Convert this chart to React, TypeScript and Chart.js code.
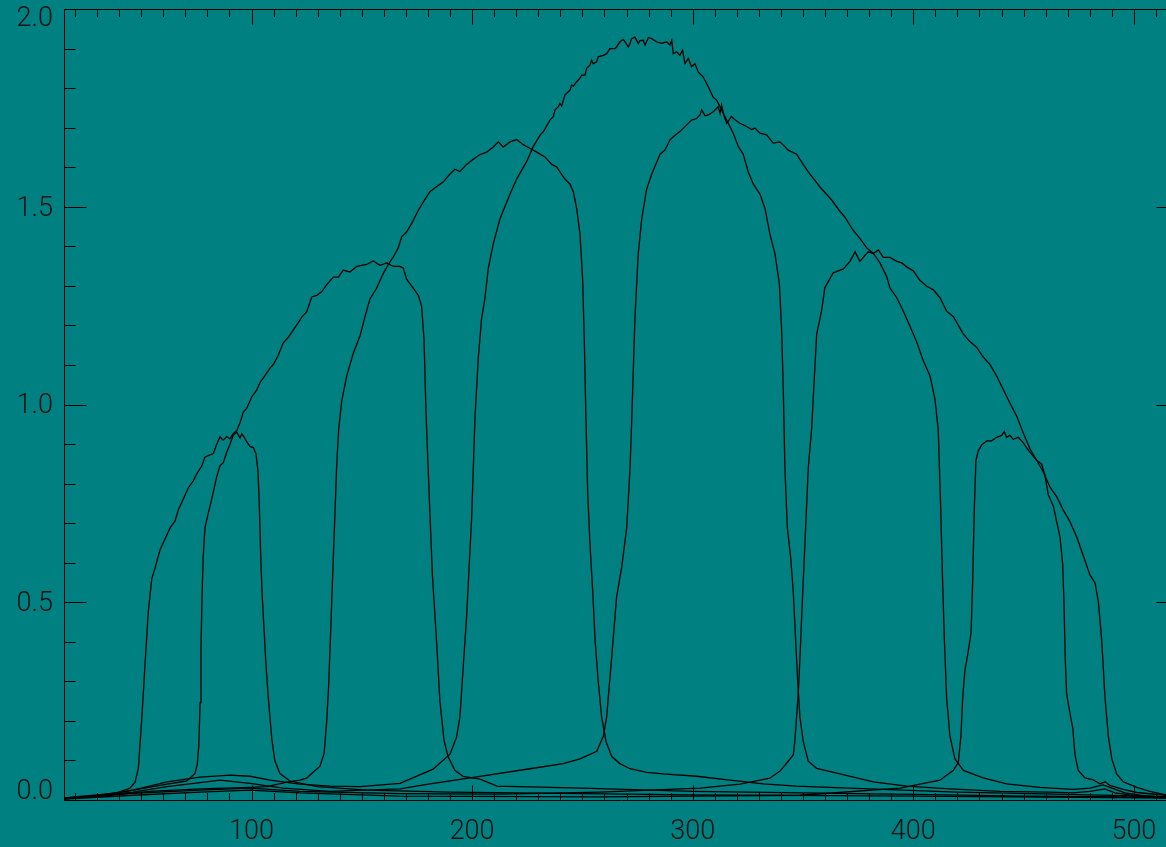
import React, { useEffect, useRef } from 'react';
import { Chart, registerables } from 'chart.js';

Chart.register(...registerables);

const BG = '#008080';
const INK = '#000000';
const CANVAS_W = 1190;
const CANVAS_H = 847;

// axis definitions
const xRange = [15, 520];
const yRange = [0, 2];
const xMajorTicks = [100, 200, 300, 400, 500];
const yMajorTicks = [0, 0.5, 1.0, 1.5, 2.0];
const yTickLabels = ['0.0', '0.5', '1.0', '1.5', '2.0'];
const xMinorStep = 10;
const yMinorStep = 0.1;

// transmission curves: [wavelength, value]
const band1: [number, number][] = [
  [15, 0.004], [31.3, 0.012], [46.3, 0.025], [61.7, 0.04], [70.6, 0.048], [74.4, 0.067], [75.4, 0.09], [76.1, 0.137],
  [76.7, 0.246], [77.1, 0.384], [77.6, 0.522], [78.1, 0.614], [78.9, 0.688], [80.0, 0.716], [81.2, 0.743], [82.7, 0.779],
  [84.2, 0.817], [85.7, 0.845], [87.2, 0.853], [88.8, 0.88], [90.2, 0.899], [91.7, 0.922], [93.3, 0.93], [94.8, 0.915],
  [95.6, 0.926], [96.6, 0.918], [97.8, 0.906], [99.3, 0.894], [100.8, 0.891], [102.0, 0.876], [102.9, 0.834], [103.5, 0.752],
  [104.2, 0.614], [104.8, 0.522], [105.7, 0.43], [106.6, 0.338], [107.8, 0.246], [109.2, 0.154], [110.6, 0.099], [112.9, 0.067],
  [117.4, 0.048], [129.7, 0.034], [152.4, 0.025], [190, 0.02], [250, 0.016], [300, 0.013], [400, 0.01], [520, 0.005],
];

const band2: [number, number][] = [
  [15, 0.005], [30, 0.013], [39, 0.018], [44.9, 0.03], [47.2, 0.045], [48.7, 0.08], [50.2, 0.2], [51.7, 0.34],
  [53.2, 0.476], [54.8, 0.56], [56.3, 0.587], [58.5, 0.632], [60.8, 0.66], [63.1, 0.688], [65.3, 0.705], [66.8, 0.733],
  [69.1, 0.761], [71.3, 0.789], [73.6, 0.807], [75.2, 0.825], [77.4, 0.844], [78.9, 0.867], [80.4, 0.871], [82.7, 0.876],
  [84.2, 0.899], [85.7, 0.918], [87.2, 0.91], [88.8, 0.919], [90.2, 0.913], [91.7, 0.926], [93.3, 0.934], [94.8, 0.954],
  [96.3, 0.981], [97.8, 0.99], [100.1, 1.019], [102.4, 1.037], [103.8, 1.055], [106.1, 1.073], [108.4, 1.092], [109.9, 1.101],
  [112.1, 1.124], [114.4, 1.156], [116.7, 1.17], [118.9, 1.188], [121.2, 1.207], [122.8, 1.221], [125, 1.234], [127.3, 1.272],
  [129.6, 1.276], [131.8, 1.285], [134.1, 1.303], [137.1, 1.322], [139.4, 1.322], [141.6, 1.34], [144.6, 1.335], [147.7, 1.349],
  [152.2, 1.354], [155.2, 1.363], [158.2, 1.352], [161.3, 1.358], [164.3, 1.349], [167.3, 1.349], [168.8, 1.345], [170.3, 1.317],
  [173.3, 1.294], [175.6, 1.276], [177.1, 1.249], [178.2, 1.166], [179.1, 0.98], [180.7, 0.75], [182, 0.57], [183.9, 0.4],
  [185.4, 0.25], [187.3, 0.15], [189.1, 0.11], [192.2, 0.075], [195.9, 0.06], [203.6, 0.053], [211.3, 0.035], [250, 0.03],
  [300, 0.022], [350, 0.018], [400, 0.014], [450, 0.01], [500, 0.008], [520, 0.005],
];

const band3: [number, number][] = [
  [15, 0.003], [31.3, 0.01], [54, 0.022], [76.7, 0.028], [99.3, 0.032], [107, 0.034], [116, 0.045], [122, 0.05],
  [125, 0.055], [127.9, 0.07], [131, 0.085], [132.9, 0.117], [134.1, 0.2], [135, 0.292], [135.9, 0.43], [136.8, 0.568],
  [137.7, 0.705], [138.6, 0.845], [139.5, 0.936], [140.9, 1.009], [143.2, 1.073], [146.1, 1.129], [149.2, 1.174], [151.4, 1.221],
  [153.7, 1.267], [156.7, 1.294], [159.7, 1.331], [162, 1.354], [164.3, 1.373], [166.5, 1.396], [168.1, 1.424], [170.3, 1.436],
  [172.8, 1.46], [175.5, 1.49], [178.2, 1.515], [180.9, 1.538], [184, 1.551], [187, 1.563], [190, 1.583], [192.2, 1.595],
  [194.5, 1.589], [197.5, 1.607], [200.5, 1.62], [203.6, 1.632], [206.6, 1.638], [209.6, 1.651], [211.9, 1.664], [214.1, 1.651],
  [217.2, 1.664], [220.2, 1.67], [223.2, 1.657], [226.2, 1.648], [229.3, 1.638], [233, 1.626], [236.1, 1.607], [238.3, 1.601],
  [240.6, 1.582], [242.1, 1.57], [244.4, 1.557], [245.9, 1.538], [247.4, 1.495], [248.9, 1.431], [250.1, 1.318], [250.9, 1.155],
  [251.6, 0.966], [252.4, 0.777], [253.4, 0.651], [254.7, 0.525], [255.8, 0.4], [257.2, 0.299], [258.7, 0.211], [260.7, 0.148],
  [263.3, 0.11], [267, 0.092], [271.6, 0.079], [279.1, 0.07], [286.7, 0.066], [301.8, 0.06], [316.9, 0.05], [332, 0.041],
  [347.1, 0.035], [380, 0.028], [420, 0.02], [470, 0.014], [520, 0.008],
];

const band4: [number, number][] = [
  [15, 0.005], [31.3, 0.01], [46.3, 0.025], [61.7, 0.046], [76.7, 0.058], [90.2, 0.063], [99.3, 0.06], [108.4, 0.05],
  [122, 0.04], [135.6, 0.035], [149.2, 0.034], [167.3, 0.042], [182.3, 0.078], [190, 0.116], [193, 0.16], [194.5, 0.211],
  [196, 0.338], [197.5, 0.463], [199.8, 0.714], [201.3, 0.966], [202.8, 1.117], [204.3, 1.217], [205.8, 1.268], [207.3, 1.343],
  [209.6, 1.406], [212.6, 1.469], [217.2, 1.532], [220.2, 1.57], [224.7, 1.614], [227.7, 1.652], [230.8, 1.681], [232.3, 1.69],
  [235.3, 1.719], [236.8, 1.728], [237.6, 1.745], [239.1, 1.753], [239.8, 1.761], [240.6, 1.755], [242.1, 1.783], [242.9, 1.787],
  [244.4, 1.795], [245.1, 1.808], [245.9, 1.805], [247.4, 1.816], [248.9, 1.825], [249.7, 1.833], [251.2, 1.833], [251.9, 1.85],
  [253.4, 1.858], [254.2, 1.871], [254.9, 1.862], [256.4, 1.866], [257.2, 1.879], [259.5, 1.883], [261, 1.887], [262.5, 1.9],
  [264.8, 1.9], [265.5, 1.904], [267, 1.917], [268.5, 1.923], [269.8, 1.913], [270.8, 1.904], [271.6, 1.913], [272.3, 1.925],
  [273.8, 1.929], [275.3, 1.913], [276.1, 1.92], [277.6, 1.921], [278.4, 1.909], [279.9, 1.928], [281.4, 1.925], [283.7, 1.917],
  [285.9, 1.913], [288.2, 1.917], [289.7, 1.909], [290.5, 1.921], [291.2, 1.887], [292.7, 1.892], [294.2, 1.883], [295.4, 1.896],
  [296.5, 1.862], [298, 1.875], [299.5, 1.854], [301, 1.862], [302.5, 1.841], [304.8, 1.828], [307.1, 1.803], [309.3, 1.777],
  [310.9, 1.769], [312.4, 1.753], [313.9, 1.736], [315.4, 1.719], [318.4, 1.686], [320.7, 1.652], [322.9, 1.633], [325.2, 1.588],
  [327.5, 1.557], [330.5, 1.532], [332.8, 1.495], [335, 1.431], [337.3, 1.381], [339.3, 1.305], [340.3, 1.192], [341.1, 1.029],
  [341.8, 0.84], [342.9, 0.689], [344.4, 0.614], [345.6, 0.526], [346.7, 0.4], [347.6, 0.299], [348.6, 0.211], [350.1, 0.148],
  [352.4, 0.098], [356.2, 0.08], [366.8, 0.066], [381.9, 0.046], [397, 0.035], [416.6, 0.028], [439.3, 0.022], [462, 0.02],
  [472.4, 0.018], [480.1, 0.022], [486.9, 0.028], [491.4, 0.018], [502.8, 0.01], [514.6, 0.005], [520, 0.004],
];

const band5: [number, number][] = [
  [15, 0.003], [46.3, 0.02], [61.7, 0.034], [76.7, 0.044], [85.7, 0.05], [99.3, 0.042], [114.3, 0.03], [135.6, 0.022],
  [167.3, 0.028], [180.9, 0.041], [203.6, 0.06], [226.2, 0.079], [241.3, 0.092], [248.9, 0.104], [256.5, 0.123], [259.5, 0.161],
  [261, 0.211], [263.3, 0.362], [265.5, 0.513], [267.8, 0.588], [270.1, 0.689], [271.6, 0.84], [272.4, 0.966], [273.8, 1.217],
  [275.3, 1.381], [276.9, 1.469], [279.1, 1.544], [281.4, 1.582], [285.2, 1.633], [287.4, 1.643], [289.7, 1.669], [291.2, 1.677],
  [294.2, 1.69], [297.3, 1.707], [299.5, 1.719], [301.8, 1.723], [303.3, 1.732], [304.1, 1.745], [305.6, 1.73], [307.1, 1.732],
  [309.3, 1.74], [311.6, 1.753], [312.4, 1.736], [313.1, 1.757], [314.2, 1.73], [315.4, 1.711], [317.6, 1.728], [319.1, 1.72],
  [321.4, 1.711], [324.5, 1.703], [326.7, 1.695], [328.2, 1.699], [330.5, 1.686], [333.5, 1.682], [336.5, 1.661], [339.6, 1.664],
  [341.8, 1.652], [343.3, 1.643], [347.1, 1.633], [350.1, 1.607], [352.4, 1.588], [357.7, 1.55], [363, 1.517], [366.8, 1.488],
  [369, 1.474], [372.8, 1.44], [375.8, 1.42], [378.9, 1.396], [381.9, 1.382], [384.9, 1.358], [387.9, 1.324], [389.4, 1.295],
  [392.5, 1.27], [395.5, 1.236], [398.5, 1.198], [401.5, 1.159], [404.5, 1.111], [407.6, 1.072], [409.8, 1.014], [411.3, 0.937],
  [412.4, 0.743], [413.3, 0.549], [414.1, 0.405], [415.1, 0.259], [416.6, 0.162], [418.9, 0.104], [422.7, 0.075], [431.7, 0.056],
  [442.3, 0.041], [457.4, 0.032], [472.4, 0.027], [480.1, 0.03], [486, 0.038], [490.1, 0.03], [496, 0.018], [502.8, 0.012],
  [514.6, 0.006], [520, 0.005],
];

const band6: [number, number][] = [
  [15, 0.003], [46.3, 0.017], [76.7, 0.025], [99.3, 0.03], [122, 0.022], [167.3, 0.016], [212.6, 0.015], [258, 0.02],
  [303.3, 0.03], [321.4, 0.04], [335, 0.055], [339.6, 0.073], [343.3, 0.098], [345.6, 0.114], [346.3, 0.148], [347.9, 0.274],
  [348.6, 0.356], [349.4, 0.463], [350.9, 0.651], [352.4, 0.84], [353.9, 0.937], [356.2, 1.178], [358.4, 1.236], [359.9, 1.295],
  [363.7, 1.333], [368.3, 1.343], [371.3, 1.362], [373.6, 1.386], [375.8, 1.362], [378.1, 1.377], [379.6, 1.386], [381.9, 1.382],
  [384.2, 1.391], [386.4, 1.372], [389.4, 1.372], [392.5, 1.362], [394.8, 1.358], [397, 1.348], [400, 1.338], [403, 1.314],
  [406.1, 1.299], [409.1, 1.29], [412.1, 1.27], [415.1, 1.236], [418.2, 1.222], [422.7, 1.178], [425.7, 1.159], [428.7, 1.145],
  [431.7, 1.12], [434.8, 1.101], [437.8, 1.072], [440.8, 1.038], [443.8, 1.004], [446.9, 0.97], [449.9, 0.927], [452.9, 0.888],
  [455.9, 0.859], [458.9, 0.83], [462, 0.791], [465, 0.767], [468, 0.733], [471, 0.704], [474.1, 0.665], [477.1, 0.617],
  [480.1, 0.569], [482.4, 0.549], [483.9, 0.501], [485.4, 0.405], [486.9, 0.259], [488.4, 0.162], [490, 0.104], [492.2, 0.066],
  [495.2, 0.046], [501.3, 0.032], [507.3, 0.022], [514.6, 0.013], [520, 0.01],
];

const band7: [number, number][] = [
  [15, 0.002], [46.3, 0.012], [76.7, 0.02], [99.3, 0.025], [122, 0.018], [167.3, 0.01], [258, 0.008], [348.6, 0.012],
  [394, 0.03], [412.1, 0.05], [418.2, 0.075], [420.4, 0.095], [421.6, 0.162], [422.4, 0.259], [423.4, 0.327], [424.9, 0.375],
  [426.2, 0.424], [426.9, 0.549], [427.7, 0.743], [428.4, 0.859], [429.5, 0.883], [431, 0.898], [433.3, 0.908], [435.5, 0.908],
  [437.8, 0.917], [440.1, 0.922], [441.2, 0.932], [442.3, 0.917], [443.8, 0.922], [445.3, 0.912], [447.6, 0.917], [449.9, 0.903],
  [451.7, 0.888], [453.7, 0.874], [455.9, 0.859], [458.2, 0.849], [459.7, 0.82], [461.2, 0.772], [463.5, 0.743], [465, 0.704],
  [466.5, 0.665], [467.7, 0.598], [468.3, 0.501], [468.9, 0.356], [469.5, 0.269], [471, 0.22], [472.3, 0.182], [473.3, 0.114],
  [474.8, 0.075], [477.8, 0.056], [481.6, 0.051], [484.6, 0.041], [486.9, 0.046], [489.1, 0.037], [495.2, 0.027], [501.3, 0.019],
  [514.6, 0.012], [520, 0.01],
];

const bands = [band1, band2, band3, band4, band5, band6, band7];

const FONT_FAMILY = 'Roboto, "DejaVu Sans", sans-serif';

const frameTicksPlugin = {
  id: 'frameTicks',
  afterDatasetsDraw(chart: any) {
    const { ctx, chartArea: a, scales } = chart;
    const xs = scales.x;
    const ys = scales.y;
    const L = Math.round(a.left) + 0.5;
    const R = Math.round(a.right) + 0.5;
    const T = Math.round(a.top) + 0.5;
    const B = Math.round(a.bottom) + 0.5;
    const xMajorLen = 15;
    const yMajorLen = 22;
    ctx.save();
    ctx.strokeStyle = INK;
    ctx.lineWidth = 1;
    ctx.beginPath();
    ctx.rect(L, T, R - L, B - T);
    const nX = Math.round((xRange[1] - xRange[0]) / xMinorStep);
    const xStart = Math.ceil(xRange[0] / xMinorStep) * xMinorStep;
    for (let i = 0; i <= nX; i++) {
      const v = xStart + i * xMinorStep;
      if (v > xRange[1]) break;
      const major = xMajorTicks.includes(v);
      const len = major ? xMajorLen : xMajorLen / 2;
      const px = Math.round(xs.getPixelForValue(v)) + 0.5;
      ctx.moveTo(px, B); ctx.lineTo(px, B - len);
      ctx.moveTo(px, T); ctx.lineTo(px, T + len);
    }
    const nY = Math.round((yRange[1] - yRange[0]) / yMinorStep);
    for (let i = 0; i <= nY; i++) {
      const v = yRange[0] + i * yMinorStep;
      const major = i % 5 === 0;
      const len = major ? yMajorLen : yMajorLen / 2;
      const py = Math.round(ys.getPixelForValue(v)) + 0.5;
      ctx.moveTo(L, py); ctx.lineTo(L + len, py);
      ctx.moveTo(R, py); ctx.lineTo(R - len, py);
    }
    ctx.stroke();
    ctx.restore();
  },
};

export default function App() {
  const ref = useRef<HTMLCanvasElement | null>(null);

  useEffect(() => {
    if (!ref.current) return;
    const chart = new Chart(ref.current, {
      type: 'scatter',
      data: {
        datasets: bands.map((b, i) => ({
          label: 'band ' + (i + 1),
          data: b.map(([x, y]) => ({ x, y })),
          showLine: true,
          borderColor: INK,
          backgroundColor: INK,
          borderWidth: 1.3,
          pointRadius: 0,
          tension: 0,
        })),
      },
      options: {
        animation: false,
        responsive: false,
        devicePixelRatio: 1,
        layout: { padding: { top: 9, right: CANVAS_W - 1178, left: 0, bottom: 0 } },
        plugins: { legend: { display: false }, tooltip: { enabled: false } },
        scales: {
          x: {
            type: 'linear',
            min: xRange[0],
            max: xRange[1],
            grid: { display: false, drawTicks: false, tickLength: 0 },
            border: { display: false },
            afterBuildTicks: (s: any) => { s.ticks = xMajorTicks.map((v) => ({ value: v })); },
            afterFit: (s: any) => { s.height = CANVAS_H - 800; s.paddingLeft = 0; s.paddingRight = 0; },
            ticks: {
              autoSkip: false,
              maxRotation: 0,
              padding: 16,
              color: '#111',
              font: { family: FONT_FAMILY, size: 27, weight: 300, lineHeight: 1.2 },
              callback: (v: any) => String(v),
            },
          },
          y: {
            type: 'linear',
            min: yRange[0],
            max: yRange[1],
            grid: { display: false, drawTicks: false, tickLength: 0 },
            border: { display: false },
            afterBuildTicks: (s: any) => { s.ticks = yMajorTicks.map((v) => ({ value: v })); },
            afterFit: (s: any) => { s.width = 64; s.paddingTop = 0; s.paddingBottom = 0; },
            ticks: {
              autoSkip: false,
              padding: 11,
              labelOffset: 2,
              color: '#111',
              font: (c: any) => {
                const v = c.tick ? c.tick.value : null;
                const lh = v === yRange[1] ? '16px' : v === yRange[0] ? '19px' : 1.2;
                return { family: FONT_FAMILY, size: 27, weight: 300, lineHeight: lh };
              },
              callback: (v: any) => {
                const idx = yMajorTicks.indexOf(Number(v));
                const label = idx >= 0 ? yTickLabels[idx] : '';
                if (Number(v) === yRange[1]) return ['', label];
                if (Number(v) === yRange[0]) return [label, ''];
                return label;
              },
            },
          },
        },
      },
      plugins: [frameTicksPlugin],
    } as any);
    return () => chart.destroy();
  }, []);

  return (
    <div style={{ position: 'fixed', left: 0, top: 0, right: 0, bottom: 0, background: BG, overflow: 'hidden' }}>
      <canvas
        ref={ref}
        width={CANVAS_W}
        height={CANVAS_H}
        style={{ position: 'absolute', left: 0, top: 0, width: CANVAS_W + 'px', height: CANVAS_H + 'px', display: 'block' }}
      />
    </div>
  );
}
